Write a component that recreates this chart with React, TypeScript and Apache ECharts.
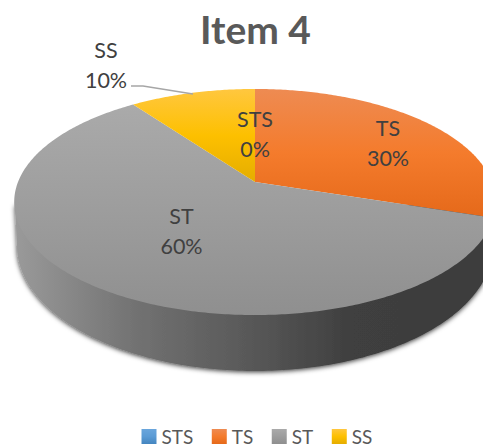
import React, { useEffect, useRef } from "react";
import * as echarts from "echarts";

const title = "Item 4";
const categories = ["STS", "TS", "ST", "SS"];
const percents = [0, 30, 60, 10];

const gradients = [
  ["#6aa6dc", "#5b9bd5", "#4485bf"],
  ["#ee8b52", "#f47b2c", "#e5691a"],
  ["#aaaaaa", "#9d9d9d", "#8f8f8f"],
  ["#ffc73f", "#fdc000", "#e5ad00"],
];
const labelAnchors: [number, number][] = [
  [255, 134],
  [388, 142.5],
  [181.5, 231],
  [106, 64.5],
];

const WIDTH = 483;
const HEIGHT = 446;
const APEX_X = 255;
const APEX_Y = 182;
const AX = 237;
const AY = 109.5;
const PERSP = -0.177;
const FONT = "Lato, 'Noto Sans', sans-serif";

// Projective mapping of a unit-circle point (angle clockwise from 12 o'clock) on to the tilted disc
function project(deg: number): number[] {
  const t = (deg * Math.PI) / 180;
  const x = Math.sin(t);
  const y = -Math.cos(t);
  const d = 1 + PERSP * y;
  return [APEX_X + (AX * x) / d, APEX_Y + (AY * y) / d];
}

const total = percents.reduce((a, b) => a + b, 0);
const startPercents = percents.map((_, i) =>
  percents.slice(0, i).reduce((a, b) => a + b, 0)
);

function vertical(c: string[]) {
  return {
    type: "linear",
    x: 0,
    y: 0,
    x2: 0,
    y2: 1,
    colorStops: [
      { offset: 0, color: c[0] },
      { offset: 0.5, color: c[1] },
      { offset: 1, color: c[2] },
    ],
  };
}

function sliceItem(i: number) {
  return (_params: any, api: any) => {
    const value = api.value(0);
    const a0 = (startPercents[i] / total) * 360;
    const a1 = a0 + (value / total) * 360;
    const children: any[] = [];
    if (value > 0) {
      const pts: number[][] = [[APEX_X, APEX_Y]];
      const n = Math.max(2, Math.ceil((a1 - a0) * 1.5));
      for (let k = 0; k <= n; k++) pts.push(project(a0 + ((a1 - a0) * k) / n));
      children.push({
        type: "polygon",
        shape: { points: pts },
        style: { fill: vertical(gradients[i]) },
      });
    }
    return { type: "group", children };
  };
}

function labelItem(_params: any, api: any) {
  const i = api.value(0);
  const [x, y] = labelAnchors[i];
  return {
    type: "text",
    x,
    y,
    style: {
      text: `${categories[i]}\n${percents[i]}%`,
      fill: "#404040",
      font: `21.5px ${FONT}`,
      lineHeight: 30,
      align: "center",
      verticalAlign: "middle",
    },
  };
}

function sideItem() {
  // the wall of the disc: lower half of the base outline, joined up to the rim
  const cx = 255;
  const cy = 246;
  const rx = 238;
  const ry = 125;
  const pts: number[][] = [[15, 205]];
  for (let k = 0; k <= 180; k++) {
    const t = Math.PI - (k * Math.PI) / 180;
    pts.push([cx + rx * Math.cos(t), cy + ry * Math.sin(t)]);
  }
  pts.push([495, 205]);
  return {
    type: "polygon",
    shape: { points: pts },
    style: {
      fill: {
        type: "linear",
        x: 0,
        y: 0,
        x2: 1,
        y2: 0,
        colorStops: [
          { offset: 0, color: "#9a9a9a" },
          { offset: 0.25, color: "#727272" },
          { offset: 0.5, color: "#575757" },
          { offset: 0.7, color: "#3f3f3f" },
          { offset: 1, color: "#3c3c3c" },
        ],
      },
      shadowBlur: 5,
      shadowColor: "rgba(0,0,0,0.8)",
      shadowOffsetY: 1,
    },
  };
}

export default function App() {
  const ref = useRef<HTMLDivElement>(null);
  useEffect(() => {
    document.body.style.margin = "0";
    const chart = echarts.init(ref.current!, null, { renderer: "svg" });
    chart.setOption({
      animation: false,
      backgroundColor: "#ffffff",
      title: {
        text: title,
        left: 255.5,
        top: 9,
        padding: 0,
        textAlign: "center",
        textStyle: {
          fontFamily: FONT,
          fontWeight: "bold",
          fontSize: 39,
          color: "#595959",
        },
      },
      legend: {
        data: categories,
        left: 141.5,
        top: 427,
        padding: 0,
        icon: "rect",
        itemWidth: 15,
        itemHeight: 15,
        itemGap: 18.5,
        selectedMode: false,
        textStyle: {
          fontFamily: FONT,
          fontSize: 19,
          lineHeight: 15,
          color: "#595959",
        },
      },
      series: [
        {
          type: "custom",
          name: "wall",
          coordinateSystem: "none",
          silent: true,
          data: [[total]],
          renderItem: sideItem,
        },
        ...categories.map((name, i) => ({
          type: "custom",
          name,
          coordinateSystem: "none",
          silent: true,
          itemStyle: { color: vertical(gradients[i]) },
          data: [[percents[i]]],
          renderItem: sliceItem(i),
        })),
        {
          type: "custom",
          name: "labels",
          coordinateSystem: "none",
          silent: true,
          data: categories.map((_, i) => [i]),
          renderItem: labelItem,
        },
      ],
      graphic: [
        {
          type: "polyline",
          shape: {
            points: [
              [131, 86],
              [143, 86],
              [193, 94],
            ],
          },
          style: { stroke: "#a6a6a6", lineWidth: 1.5, fill: "none" },
          z: 10,
        },
      ],
    });
    return () => chart.dispose();
  }, []);
  return (
    <div
      ref={ref}
      style={{ width: WIDTH, height: HEIGHT, overflow: "hidden", position: "absolute", left: 0, top: 0 }}
    />
  );
}
